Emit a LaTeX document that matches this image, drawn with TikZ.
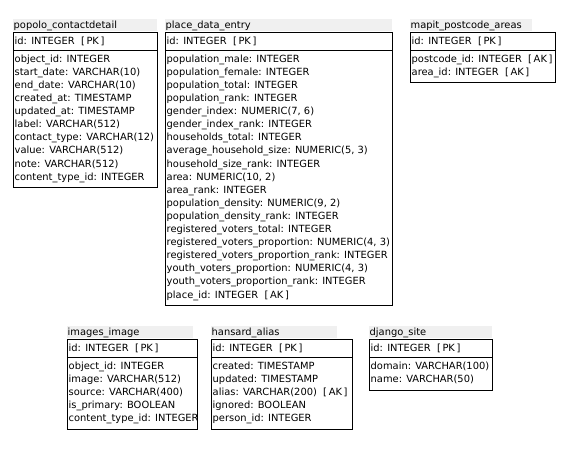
\documentclass[tikz,border=0pt]{standalone}
\usepackage{fontspec}
\setmainfont{DejaVu Sans}
\usetikzlibrary{positioning}
\definecolor{titlebg}{HTML}{F0F0F0}
\definecolor{tableline}{HTML}{000000}
\definecolor{textcolor}{HTML}{000000}
\tikzset{
  titleband/.style={
    fill=titlebg,
    draw=none,
    anchor=north west,
    inner sep=0pt,
    minimum height=12pt
  },
  tablename/.style={
    anchor=base west,
    inner sep=0pt,
    text=textcolor,
    font=\fontsize{9.9}{13.1}\selectfont
  },
  tablebox/.style={
    draw=tableline,
    line width=1pt,
    anchor=north west,
    inner sep=0pt
  },
  fieldlist/.style={
    anchor=north west,
    inner sep=0pt,
    align=left,
    text=textcolor,
    font=\fontsize{9.9}{13.1}\selectfont,
    execute at begin node={\rule{0pt}{9pt}}
  }
}

\begin{document}
\begin{tikzpicture}[x=1pt,y=-1pt]

  \useasboundingbox (0,0) rectangle (570,464);

  % popolo_contactdetail
  \node (popolo-band) [titleband, minimum width=144pt] at (13,19) {};
  \node (popolo-title) [tablename] at (13.5,28) {popolo\_contactdetail};
  \node (popolo-pkbox) [tablebox, minimum width=144pt, minimum height=18pt] at (13,32) {};
  \node (popolo-pk) [tablename] at (14.5,44.5) {id: INTEGER\ \ [\,PK\,]};
  \node (popolo-box) [tablebox, minimum width=144pt, minimum height=137pt] at (13,50) {};
  \node (popolo-fields) [fieldlist] at (14.5,54.5) {object\_id: INTEGER\\
    start\_date: VARCHAR(10)\\
    end\_date: VARCHAR(10)\\
    created\_at: TIMESTAMP\\
    updated\_at: TIMESTAMP\\
    label: VARCHAR(512)\\
    contact\_type: VARCHAR(12)\\
    value: VARCHAR(512)\\
    note: VARCHAR(512)\\
    content\_type\_id: INTEGER};

  % place_data_entry
  \node (place-band) [titleband, minimum width=227pt] at (165,19) {};
  \node (place-title) [tablename] at (165.5,28) {place\_data\_entry};
  \node (place-pkbox) [tablebox, minimum width=227pt, minimum height=18pt] at (165,32) {};
  \node (place-pk) [tablename] at (166.5,44.5) {id: INTEGER\ \ [\,PK\,]};
  \node (place-box) [tablebox, minimum width=227pt, minimum height=255pt] at (165,50) {};
  \node (place-fields) [fieldlist] at (166.5,54.5) {population\_male: INTEGER\\
    population\_female: INTEGER\\
    population\_total: INTEGER\\
    population\_rank: INTEGER\\
    gender\_index: NUMERIC(7, 6)\\
    gender\_index\_rank: INTEGER\\
    households\_total: INTEGER\\
    average\_household\_size: NUMERIC(5, 3)\\
    household\_size\_rank: INTEGER\\
    area: NUMERIC(10, 2)\\
    area\_rank: INTEGER\\
    population\_density: NUMERIC(9, 2)\\
    population\_density\_rank: INTEGER\\
    registered\_voters\_total: INTEGER\\
    registered\_voters\_proportion: NUMERIC(4, 3)\\
    registered\_voters\_proportion\_rank: INTEGER\\
    youth\_voters\_proportion: NUMERIC(4, 3)\\
    youth\_voters\_proportion\_rank: INTEGER\\
    place\_id: INTEGER\ \ [\,AK\,]};

  % mapit_postcode_areas
  \node (mapit-band) [titleband, minimum width=122pt] at (410,19) {};
  \node (mapit-title) [tablename] at (410.5,28) {mapit\_postcode\_areas};
  \node (mapit-pkbox) [tablebox, minimum width=145pt, minimum height=18pt] at (410,32) {};
  \node (mapit-pk) [tablename] at (411.5,44.5) {id: INTEGER\ \ [\,PK\,]};
  \node (mapit-box) [tablebox, minimum width=145pt, minimum height=32pt] at (410,50) {};
  \node (mapit-fields) [fieldlist] at (411.5,54.5) {postcode\_id: INTEGER\ \ [\,AK\,]\\
    area\_id: INTEGER\ \ [\,AK\,]};

  % images_image
  \node (images-band) [titleband, minimum width=126pt] at (67,326) {};
  \node (images-title) [tablename] at (67.5,335) {images\_image};
  \node (images-pkbox) [tablebox, minimum width=130pt, minimum height=18pt] at (67,339) {};
  \node (images-pk) [tablename] at (68.5,351.5) {id: INTEGER\ \ [\,PK\,]};
  \node (images-box) [tablebox, minimum width=130pt, minimum height=72pt] at (67,357) {};
  \node (images-fields) [fieldlist] at (68.5,361.5) {object\_id: INTEGER\\
    image: VARCHAR(512)\\
    source: VARCHAR(400)\\
    is\_primary: BOOLEAN\\
    content\_type\_id: INTEGER};

  % hansard_alias
  \node (hansard-band) [titleband, minimum width=126pt] at (211,326) {};
  \node (hansard-title) [tablename] at (211.5,335) {hansard\_alias};
  \node (hansard-pkbox) [tablebox, minimum width=141pt, minimum height=18pt] at (211,339) {};
  \node (hansard-pk) [tablename] at (212.5,351.5) {id: INTEGER\ \ [\,PK\,]};
  \node (hansard-box) [tablebox, minimum width=141pt, minimum height=72pt] at (211,357) {};
  \node (hansard-fields) [fieldlist] at (212.5,361.5) {created: TIMESTAMP\\
    updated: TIMESTAMP\\
    alias: VARCHAR(200)\ \ [\,AK\,]\\
    ignored: BOOLEAN\\
    person\_id: INTEGER};

  % django_site
  \node (django-band) [titleband, minimum width=123pt] at (369,326) {};
  \node (django-title) [tablename] at (369.5,335) {django\_site};
  \node (django-pkbox) [tablebox, minimum width=123pt, minimum height=18pt] at (369,339) {};
  \node (django-pk) [tablename] at (370.5,351.5) {id: INTEGER\ \ [\,PK\,]};
  \node (django-box) [tablebox, minimum width=123pt, minimum height=33pt] at (369,357) {};
  \node (django-fields) [fieldlist] at (370.5,361.5) {domain: VARCHAR(100)\\
    name: VARCHAR(50)};

\end{tikzpicture}
\end{document}
